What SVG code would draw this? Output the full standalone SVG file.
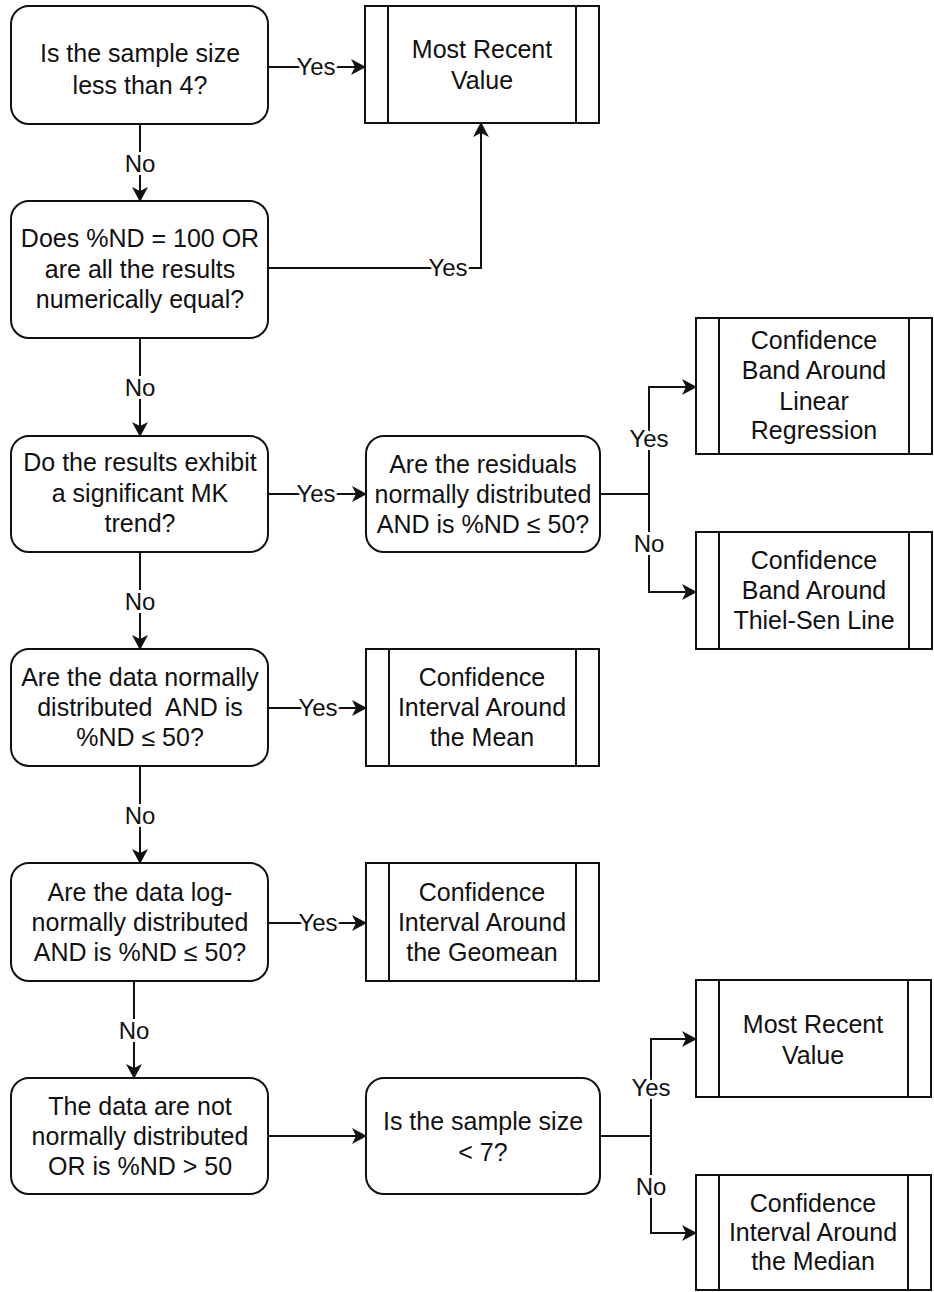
<svg xmlns="http://www.w3.org/2000/svg" width="934" height="1292" viewBox="0 0 934 1292">
<defs>
<marker id="arr" viewBox="0 0 15 16" refX="14" refY="8" markerWidth="15" markerHeight="16" markerUnits="userSpaceOnUse" orient="auto">
<path d="M0,0 L15,8 L0,16 L4,8 Z" fill="#111"/>
</marker>
<style>
.dec{fill:#fff;stroke:#111;stroke-width:2}
.proc{fill:#fff;stroke:#111;stroke-width:2}
.t{font-family:"Liberation Sans",Arial,sans-serif;font-size:25px;fill:#111;text-anchor:middle}
.lbl{font-family:"Liberation Sans",Arial,sans-serif;font-size:24px;fill:#111;text-anchor:middle;stroke:#fff;stroke-width:6;paint-order:stroke;stroke-linejoin:round}
.c{fill:none;stroke:#111;stroke-width:2}
</style>
</defs>
<rect width="934" height="1292" fill="#fff"/>

<g id="connectors">
<path class="c" d="M268,67 H365" marker-end="url(#arr)"/>
<path class="c" d="M140,124 V201" marker-end="url(#arr)"/>
<path class="c" d="M268,268 H481 V123" marker-end="url(#arr)"/>
<path class="c" d="M140,338 V436" marker-end="url(#arr)"/>
<path class="c" d="M268,494 H366" marker-end="url(#arr)"/>
<path class="c" d="M600,494 H649 V387 H696" marker-end="url(#arr)"/>
<path class="c" d="M649,494 V592 H696" marker-end="url(#arr)"/>
<path class="c" d="M140,552 V649" marker-end="url(#arr)"/>
<path class="c" d="M268,708 H366" marker-end="url(#arr)"/>
<path class="c" d="M140,766 V863" marker-end="url(#arr)"/>
<path class="c" d="M268,923 H366" marker-end="url(#arr)"/>
<path class="c" d="M134,981 V1078" marker-end="url(#arr)"/>
<path class="c" d="M268,1136 H366" marker-end="url(#arr)"/>
<path class="c" d="M600,1136 H651 V1039 H696" marker-end="url(#arr)"/>
<path class="c" d="M651,1136 V1233 H696" marker-end="url(#arr)"/>
<text class="lbl" x="316" y="75">Yes</text>
<text class="lbl" x="140" y="172">No</text>
<text class="lbl" x="448" y="276">Yes</text>
<text class="lbl" x="140" y="396">No</text>
<text class="lbl" x="316" y="502">Yes</text>
<text class="lbl" x="649" y="447">Yes</text>
<text class="lbl" x="649" y="552">No</text>
<text class="lbl" x="140" y="610">No</text>
<text class="lbl" x="318" y="716">Yes</text>
<text class="lbl" x="140" y="824">No</text>
<text class="lbl" x="318" y="931">Yes</text>
<text class="lbl" x="134" y="1039">No</text>
<text class="lbl" x="651" y="1096">Yes</text>
<text class="lbl" x="651" y="1195">No</text>
</g>

<g id="d1"><rect class="dec" x="11" y="6" width="257" height="118" rx="18"/>
<text class="t" x="140" y="62">Is the sample size</text><text class="t" x="140" y="94">less than 4?</text></g>

<g id="d2"><rect class="dec" x="11" y="201" width="257" height="137" rx="18"/>
<text class="t" x="140" y="247">Does %ND = 100 OR</text><text class="t" x="140" y="278">are all the results</text><text class="t" x="140" y="308">numerically equal?</text></g>

<g id="d3"><rect class="dec" x="11" y="436" width="257" height="116" rx="18"/>
<text class="t" x="140" y="471">Do the results exhibit</text><text class="t" x="140" y="502">a significant MK</text><text class="t" x="140" y="532">trend?</text></g>

<g id="d4"><rect class="dec" x="366" y="436" width="234" height="116" rx="18"/>
<text class="t" x="483" y="473">Are the residuals</text><text class="t" x="483" y="503">normally distributed</text><text class="t" x="483" y="533">AND is %ND ≤ 50?</text></g>

<g id="d5"><rect class="dec" x="11" y="649" width="257" height="117" rx="18"/>
<text class="t" x="140" y="686">Are the data normally</text><text class="t" x="140" y="716" xml:space="preserve">distributed  AND is</text><text class="t" x="140" y="746">%ND ≤ 50?</text></g>

<g id="d6"><rect class="dec" x="11" y="863" width="257" height="118" rx="18"/>
<text class="t" x="140" y="901">Are the data log-</text><text class="t" x="140" y="931">normally distributed</text><text class="t" x="140" y="961">AND is %ND ≤ 50?</text></g>

<g id="d7"><rect class="dec" x="11" y="1078" width="257" height="116" rx="18"/>
<text class="t" x="140" y="1115">The data are not</text><text class="t" x="140" y="1145">normally distributed</text><text class="t" x="140" y="1175">OR is %ND &gt; 50</text></g>

<g id="d8"><rect class="dec" x="366" y="1078" width="234" height="116" rx="18"/>
<text class="t" x="483" y="1130">Is the sample size</text><text class="t" x="483" y="1161">&lt; 7?</text></g>

<g id="p1"><rect class="proc" x="365" y="6" width="234" height="117"/>
<path class="c" d="M388,6 V123 M576,6 V123"/>
<text class="t" x="482" y="58">Most Recent</text><text class="t" x="482" y="89">Value</text></g>

<g id="p2"><rect class="proc" x="696" y="318" width="236" height="136"/>
<path class="c" d="M719,318 V454 M909,318 V454"/>
<text class="t" x="814" y="349">Confidence</text><text class="t" x="814" y="379">Band Around</text><text class="t" x="814" y="410">Linear</text><text class="t" x="814" y="439">Regression</text></g>

<g id="p3"><rect class="proc" x="696" y="532" width="236" height="117"/>
<path class="c" d="M719,532 V649 M909,532 V649"/>
<text class="t" x="814" y="569">Confidence</text><text class="t" x="814" y="599">Band Around</text><text class="t" x="814" y="629">Thiel-Sen Line</text></g>

<g id="p4"><rect class="proc" x="366" y="649" width="233" height="117"/>
<path class="c" d="M389,649 V766 M576,649 V766"/>
<text class="t" x="482" y="686">Confidence</text><text class="t" x="482" y="716">Interval Around</text><text class="t" x="482" y="746">the Mean</text></g>

<g id="p5"><rect class="proc" x="366" y="863" width="233" height="118"/>
<path class="c" d="M389,863 V981 M576,863 V981"/>
<text class="t" x="482" y="901">Confidence</text><text class="t" x="482" y="931">Interval Around</text><text class="t" x="482" y="961">the Geomean</text></g>

<g id="p6"><rect class="proc" x="696" y="980" width="235" height="117"/>
<path class="c" d="M719,980 V1097 M908,980 V1097"/>
<text class="t" x="813" y="1033">Most Recent</text><text class="t" x="813" y="1064">Value</text></g>

<g id="p7"><rect class="proc" x="696" y="1175" width="235" height="115"/>
<path class="c" d="M719,1175 V1290 M908,1175 V1290"/>
<text class="t" x="813" y="1212">Confidence</text><text class="t" x="813" y="1241">Interval Around</text><text class="t" x="813" y="1270">the Median</text></g>
</svg>
